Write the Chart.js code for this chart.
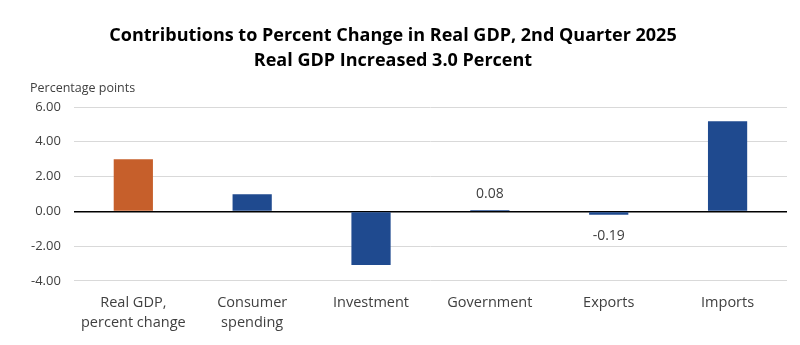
<!DOCTYPE html>
<html>
<head>
<meta charset="utf-8">
<script src="https://cdn.jsdelivr.net/npm/chart.js@4"></script>
<style>
  html, body { margin: 0; padding: 0; background: #fff; }
  #wrap { width: 800px; height: 345px; position: relative; }
</style>
</head>
<body>
<div id="wrap"><canvas id="gdpChart"></canvas></div>
<script>
var categories = [["Real GDP,", "percent change"], ["Consumer", "spending"], "Investment", "Government", "Exports", "Imports"];
var contributions = [3.00, 0.98, -3.08, 0.08, -0.19, 5.18];
var barColors = ["#C65F2B", "#1F4A8F", "#1F4A8F", "#1F4A8F", "#1F4A8F", "#1F4A8F"];
var labelledBars = [3, 4];
var tickValues = [-4, -2, 0, 2, 4, 6];
var titleLines = ["Contributions to Percent Change in Real GDP, 2nd Quarter 2025", "Real GDP Increased 3.0 Percent"];
var axisTitle = "Percentage points";

var extras = {
	id: "extras",
	afterDraw: function (chart) {
		var ctx = chart.ctx;
		ctx.save();
		// titles
		ctx.fillStyle = "#000";
		ctx.textAlign = "center";
		ctx.textBaseline = "middle";
		ctx.font = "bold 18px 'Open Sans'";
		ctx.fillText(titleLines[0], 393, 36);
		ctx.fillText(titleLines[1], 393, 61);
		// axis caption
		ctx.font = "12.5px 'Open Sans'";
		ctx.fillStyle = "#404040";
		ctx.textAlign = "left";
		ctx.fillText(axisTitle, 30, 88);
		// value labels for the small bars
		var meta = chart.getDatasetMeta(0);
		ctx.font = "14px 'Open Sans'";
		ctx.textAlign = "center";
		labelledBars.forEach(function (i) {
			var bar = meta.data[i];
			var v = contributions[i];
			var y = v >= 0 ? bar.y - 16 : bar.y + 21;
			ctx.fillText(v.toFixed(2), bar.x, y);
		});
		ctx.restore();
	}
};

var ctx = document.getElementById("gdpChart");
var gdpChart = new Chart(ctx, {
	type: "bar",
	data: {
		labels: categories,
		datasets: [{
			data: contributions,
			backgroundColor: barColors,
			categoryPercentage: 1.0,
			barPercentage: 0.33
		}]
	},
	options: {
		responsive: true,
		maintainAspectRatio: false,
		animation: false,
		layout: { padding: { top: 107, right: 13, left: 18, bottom: 0 } },
		plugins: {
			legend: { display: false },
			tooltip: { enabled: false }
		},
		scales: {
			x: {
				grid: { display: false, drawTicks: false },
				border: { display: false },
				ticks: {
					color: "#404040",
					font: { family: "'Open Sans'", size: 14.5, lineHeight: 1.38 },
					maxRotation: 0,
					padding: 12
				}
			},
			y: {
				min: -4,
				max: 6,
				afterBuildTicks: function (axis) {
					axis.ticks = tickValues.map(function (v) { return { value: v }; });
				},
				grid: {
					drawTicks: false,
					color: function (c) { return c.tick.value === 0 ? "#000" : "#D9D9D9"; },
					lineWidth: function (c) { return c.tick.value === 0 ? 1.5 : 1; }
				},
				border: { display: false },
				ticks: {
					color: "#404040",
					font: { family: "'Open Sans'", size: 13 },
					padding: 13,
					callback: function (v) { return v.toFixed(2); }
				}
			}
		}
	},
	plugins: [extras]
});
</script>
</body>
</html>
